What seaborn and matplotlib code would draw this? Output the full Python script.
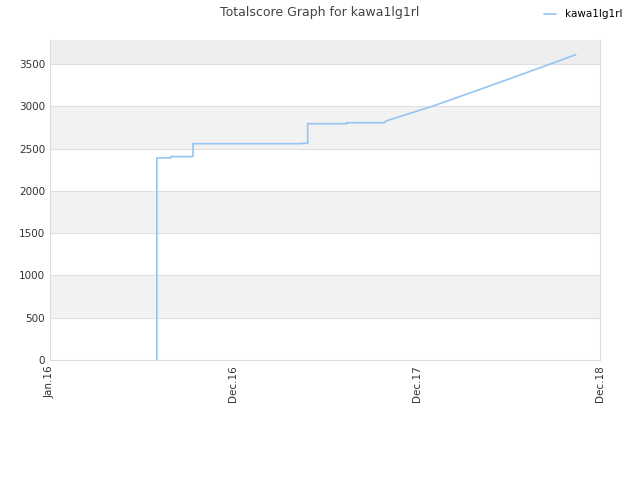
import pandas as pd
import matplotlib
matplotlib.use("Agg")
import matplotlib.pyplot as plt
import seaborn as sns

# dados
datas = ["2016-07-26", "2016-07-26", "2016-08-22", "2016-08-22", "2016-10-04", "2016-10-04",
         "2017-05-03", "2017-05-03", "2017-05-14", "2017-05-14", "2017-07-29", "2017-07-29",
         "2017-10-10", "2017-10-12", "2018-01-15", "2018-04-15", "2018-07-15", "2018-10-15"]
pontos = [0, 2390, 2390, 2405, 2405, 2558,
          2558, 2562, 2562, 2794, 2794, 2806,
          2806, 2825, 3010, 3205, 3405, 3610]
jogador = "kawa1lg1rl"
rotulos_x = ["Jan.16", "Dec.16", "Dec.17", "Dec.18"]

df = pd.DataFrame({"data": pd.to_datetime(datas), "pontos": pontos, "jogador": jogador})

sns.set_style("white")
plt.rcParams["font.family"] = ["DejaVu Sans"]

fig = plt.figure(figsize=(6.4, 4.8), dpi=100)
ax = fig.add_axes([0.078, 0.25, 0.8595, 0.6667])

inicio = pd.Timestamp("2016-01-01")
fim = pd.Timestamp("2018-12-01")
ymax = 3784

# faixas alternadas de fundo
for i, y0 in enumerate(range(0, 4000, 500)):
    cor = "#ffffff" if i % 2 == 0 else "#f2f2f2"
    if y0 == 3500:
        cor = "#eeeeee"
    ax.axhspan(y0, min(y0 + 500, ymax), color=cor, zorder=0, lw=0)
for y in range(500, 4000, 500):
    ax.axhline(y, color="#e0e0e0", lw=0.8, zorder=1)

sns.lineplot(data=df, x="data", y="pontos", hue="jogador", palette=["#95c4f3"],
             estimator=None, sort=False, lw=1.2, ax=ax, zorder=3)

ax.set_xlim(inicio, fim)
ax.set_ylim(0, ymax)
passo = (fim - inicio) / 3
ax.set_xticks([inicio + passo * k for k in range(4)])
ax.set_xticklabels(rotulos_x, rotation=90, fontsize=7.5, color="#333333")
ax.set_yticks(range(0, 4000, 500))
ax.tick_params(axis="y", labelsize=7.5, colors="#333333", length=0)
ax.tick_params(axis="x", length=0, pad=4)
ax.set_xlabel("")
ax.set_ylabel("")

for lado in ["left", "bottom", "right"]:
    ax.spines[lado].set_color("#dddddd")
    ax.spines[lado].set_linewidth(0.8)
ax.spines["top"].set_visible(False)

fig.suptitle("Totalscore Graph for " + jogador, fontsize=9, color="#444444", y=0.988)
leg = ax.legend(loc="upper right", bbox_to_anchor=(0.985, 0.998), bbox_transform=fig.transFigure,
                frameon=False, fontsize=7.5, handlelength=1.2, borderaxespad=0.4)
for t in leg.get_texts():
    t.set_color("#000000")

fig.savefig("out.png", dpi=100)
